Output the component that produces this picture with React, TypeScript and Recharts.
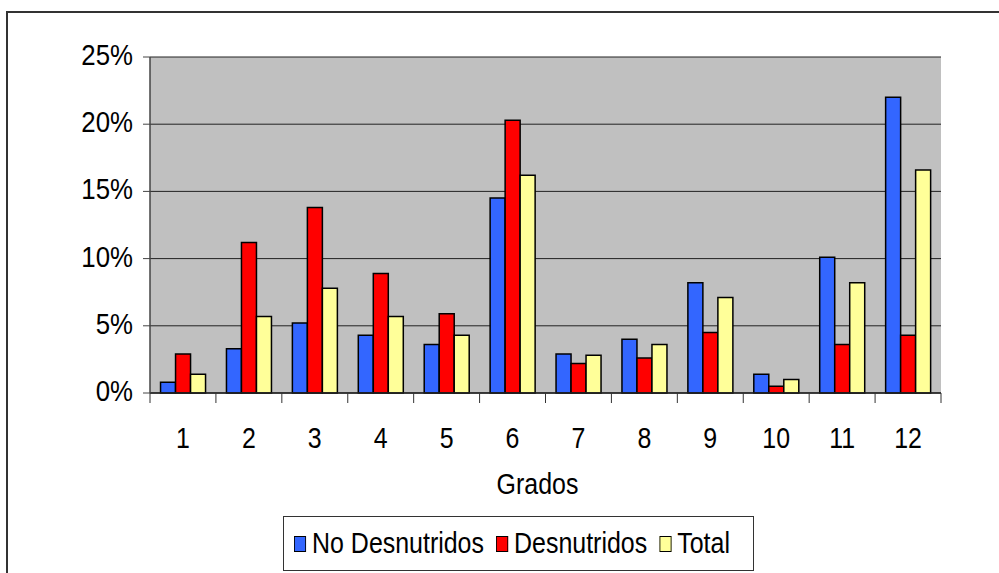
import React from "react";
import {
  BarChart,
  Bar,
  XAxis,
  YAxis,
  CartesianGrid,
} from "recharts";

const grados = ["1", "2", "3", "4", "5", "6", "7", "8", "9", "10", "11", "12"];
const noDesnutridos = [0.8, 3.3, 5.2, 4.3, 3.6, 14.5, 2.9, 4.0, 8.2, 1.4, 10.1, 22.0];
const desnutridos = [2.9, 11.2, 13.8, 8.9, 5.9, 20.3, 2.2, 2.6, 4.5, 0.5, 3.6, 4.3];
const total = [1.4, 5.7, 7.8, 5.7, 4.3, 16.2, 2.8, 3.6, 7.1, 1.0, 8.2, 16.6];
const yTicks = [0, 5, 10, 15, 20, 25];

const series = [
  { key: "noDesnutridos", name: "No Desnutridos", color: "#3366FF" },
  { key: "desnutridos", name: "Desnutridos", color: "#FF0000" },
  { key: "total", name: "Total", color: "#FFFF99" },
];

const data = grados.map((g, i) => ({
  grado: g,
  noDesnutridos: noDesnutridos[i],
  desnutridos: desnutridos[i],
  total: total[i],
}));

const FONT = "'Liberation Sans', Arial, sans-serif";
// the labels use a narrow face, so squeeze the regular one
const SQUEEZE = 0.86;

const YTick = (props: any) => {
  const { x, y, payload } = props;
  return (
    <text
      transform={`translate(${x},${y + 8}) scale(0.89,1)`}
      textAnchor="end"
      fontFamily={FONT}
      fontSize={29}
      fill="#000"
    >
      {`${payload.value}%`}
    </text>
  );
};

// grade label centred in its band, with tick marks on the band edges
const XTick = (props: any) => {
  const { x, y, payload, index, visibleTicksCount } = props;
  const half = payload.offset || 0;
  const isLast = index === visibleTicksCount - 1;
  return (
    <g>
      <line x1={x - half} x2={x - half} y1={y} y2={y + 10} stroke="#333" />
      {isLast && <line x1={x + half} x2={x + half} y1={y} y2={y + 10} stroke="#333" />}
      <text
        transform={`translate(${x},${y + 55}) scale(${SQUEEZE},1)`}
        textAnchor="middle"
        fontFamily={FONT}
        fontSize={29}
        fill="#000"
      >
        {payload.value}
      </text>
    </g>
  );
};

const AxisTitle = (props: any) => {
  const { viewBox } = props;
  const cx = viewBox.x + viewBox.width / 2 - 8;
  return (
    <text
      transform={`translate(${cx},${viewBox.y + 101}) scale(${SQUEEZE},1)`}
      textAnchor="middle"
      fontFamily={FONT}
      fontSize={29}
      fill="#000"
    >
      Grados
    </text>
  );
};

const App: React.FC = () => {
  return (
    <div style={{ position: "absolute", left: 0, top: 0, width: 999, height: 573, background: "#fff", overflow: "hidden" }}>
      {/* outer chart frame */}
      <div
        style={{
          position: "absolute",
          left: 6,
          top: 11,
          width: 1000,
          height: 600,
          borderLeft: "2px solid #333",
          borderTop: "2px solid #333",
        }}
      />
      <BarChart
        width={999}
        height={573}
        data={data}
        margin={{ top: 57, right: 58, left: 0, bottom: 70 }}
        barCategoryGap="16%"
        barGap={0}
        style={{ position: "absolute", left: 0, top: 0 }}
      >
        <CartesianGrid fill="#C0C0C0" vertical={false} stroke="#222" />
        <XAxis
          dataKey="grado"
          tickLine={false}
          tickSize={0}
          tickMargin={0}
          axisLine={{ stroke: "#222", strokeWidth: 1.5 }}
          tick={<XTick />}
          interval={0}
          height={110}
          label={{ content: <AxisTitle /> } as any}
        />
        <YAxis
          domain={[0, 25]}
          ticks={yTicks}
          width={150}
          tickSize={7}
          tickMargin={10}
          tick={<YTick />}
          axisLine={{ stroke: "#444", strokeWidth: 1.5 }}
          tickLine={{ stroke: "#444" }}
          interval={0}
        />
        <YAxis
          yAxisId="frame"
          orientation="right"
          width={0}
          tick={false}
          tickLine={false}
          axisLine={{ stroke: "#666", strokeWidth: 1.5 }}
        />
        {series.map((s) => (
          <Bar
            key={s.key}
            dataKey={s.key}
            name={s.name}
            fill={s.color}
            stroke="#000"
            strokeWidth={1.5}
            isAnimationActive={false}
          />
        ))}
      </BarChart>
      {/* legend box */}
      <div
        style={{
          position: "absolute",
          left: 283,
          top: 516,
          width: 471,
          height: 55,
          border: "1px solid #333",
          boxSizing: "border-box",
        }}
      >
        <div
          style={{
            position: "absolute",
            left: 10,
            top: 0,
            height: 53,
            display: "flex",
            alignItems: "center",
            whiteSpace: "nowrap",
            transform: `scale(${SQUEEZE},1)`,
            transformOrigin: "left center",
            fontFamily: FONT,
            fontSize: 29,
            color: "#000",
          }}
        >
          {series.map((s) => (
            <div key={s.key} style={{ display: "flex", alignItems: "center", marginRight: 14 }}>
              <span
                style={{
                  display: "inline-block",
                  width: 12,
                  height: 14,
                  background: s.color,
                  border: "1.5px solid #000",
                  marginRight: 7,
                }}
              />
              <span>{s.name}</span>
            </div>
          ))}
        </div>
      </div>
    </div>
  );
};

export default App;
